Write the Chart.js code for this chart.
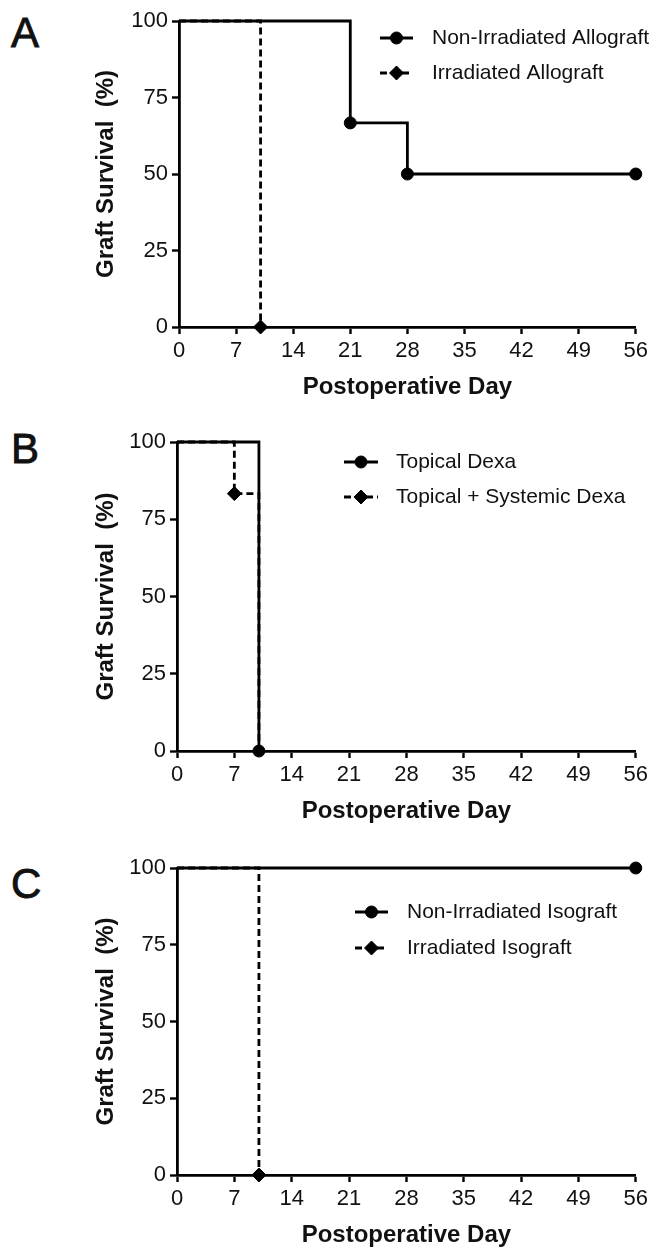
<!DOCTYPE html>
<html lang="en">
<head>
<meta charset="UTF-8">
<title>Graft Survival</title>
<script src="https://cdn.jsdelivr.net/npm/chart.js@4.4.1/dist/chart.umd.min.js"></script>
<style>
  body { margin: 0; background: #fff; width: 652px; height: 1247px; position: relative; overflow: hidden;
         font-family: 'Liberation Sans', Arial, sans-serif; }
  .panel { position: absolute; left: 0; width: 652px; }
  .letter { position: absolute; left: 11px; font-size: 42px; line-height: 1; color: #111;
            -webkit-text-stroke: 0.9px #111; }
</style>
</head>
<body>
<div class="letter" style="top:12px">A</div>
<div class="letter" style="top:428px">B</div>
<div class="letter" style="top:863px">C</div>
<div class="panel" style="top:0;height:415px"><canvas id="chartA"></canvas></div>
<div class="panel" style="top:415px;height:415px"><canvas id="chartB"></canvas></div>
<div class="panel" style="top:830px;height:417px"><canvas id="chartC"></canvas></div>
<script>
// axis ticks
var dayTicks = [0, 7, 14, 21, 28, 35, 42, 49, 56];
var survivalTicks = [0, 25, 50, 75, 100];

// panel A
var allograftDays = [0, 21, 28, 56];
var allograftSurvival = [100, 66.7, 50, 50];
var irrAllograftDays = [0, 10];
var irrAllograftSurvival = [100, 0];

// panel B
var topicalDays = [0, 10];
var topicalSurvival = [100, 0];
var systemicDays = [0, 7, 10];
var systemicSurvival = [100, 83.3, 0];

// panel C
var isograftDays = [0, 56];
var isograftSurvival = [100, 100];
var irrIsograftDays = [0, 10];
var irrIsograftSurvival = [100, 0];

var FONT = "'Liberation Sans', Arial, sans-serif";
var INK = '#111';

function pts(xs, ys) {
    return xs.map(function (x, i) { return { x: x, y: ys[i] }; });
}

// one Kaplan-Meier style series; marks says which points get a marker
function series(label, xs, ys, dashed, marks) {
    var r = dashed ? 7 : 6;
    return {
        label: label,
        data: pts(xs, ys),
        stepped: true,
        borderColor: '#000',
        borderWidth: 2.8,
        borderDash: dashed ? [7, 4] : [],
        pointStyle: dashed ? 'rectRot' : 'circle',
        pointBackgroundColor: '#000',
        pointBorderColor: '#000',
        pointBorderWidth: 1,
        pointRadius: function (c) { return marks[c.dataIndex] ? r : 0; },
        legendRadius: r,
        fill: false,
        clip: false
    };
}

// legend drawn inside the plot: line sample + marker + label
var kmLegend = {
    id: 'kmLegend',
    afterDraw: function (chart, args, o) {
        var ctx = chart.ctx;
        ctx.save();
        chart.data.datasets.forEach(function (ds, i) {
            var y = o.rows[i];
            ctx.strokeStyle = '#000';
            ctx.fillStyle = '#000';
            ctx.lineWidth = ds.borderWidth;
            ctx.setLineDash(ds.borderDash);
            ctx.beginPath();
            ctx.moveTo(o.x1, y);
            ctx.lineTo(o.x2, y);
            ctx.stroke();
            ctx.setLineDash([]);
            ctx.lineWidth = 1;
            Chart.helpers.drawPoint(ctx, { pointStyle: ds.pointStyle, radius: ds.legendRadius, rotation: 0, borderWidth: 1 },
                (o.x1 + o.x2) / 2, y);
            ctx.fillStyle = INK;
            ctx.font = '21px ' + FONT;
            ctx.textBaseline = 'middle';
            ctx.textAlign = 'left';
            ctx.fillText(ds.label, o.textX, y);
        });
        ctx.restore();
    }
};

function makeChart(id, g, datasets) {
    var xHeight = g.canvasH - (g.plotBottom - g.canvasTop);
    return new Chart(document.getElementById(id), {
        type: 'line',
        data: { datasets: datasets },
        plugins: [kmLegend],
        options: {
            responsive: true,
            maintainAspectRatio: false,
            animation: false,
            events: [],
            layout: { padding: { top: g.plotTop - g.canvasTop, right: 652 - g.plotRight, left: 0, bottom: 0 } },
            plugins: {
                legend: { display: false },
                tooltip: { enabled: false },
                kmLegend: {
                    rows: g.rows.map(function (r) { return r - g.canvasTop; }),
                    x1: g.x1, x2: g.x2, textX: g.textX
                }
            },
            scales: {
                x: {
                    type: 'linear', min: 0, max: 56,
                    afterBuildTicks: function (s) { s.ticks = dayTicks.map(function (v) { return { value: v }; }); },
                    afterFit: function (s) { s.height = xHeight; },
                    grid: { drawOnChartArea: false, tickLength: 7, tickWidth: 2.4, tickColor: '#000' },
                    border: { display: true, color: '#000', width: 2.8 },
                    ticks: { color: INK, padding: 4, maxRotation: 0, font: { family: FONT, size: 22 } },
                    title: {
                        display: true, text: 'Postoperative Day', color: INK,
                        font: { family: FONT, size: 24, weight: 'bold', lineHeight: 1 },
                        padding: { top: 0, bottom: xHeight - 60 - 12 }
                    }
                },
                y: {
                    min: 0, max: 100,
                    afterBuildTicks: function (s) { s.ticks = survivalTicks.map(function (v) { return { value: v }; }); },
                    afterFit: function (s) { s.width = g.plotLeft; },
                    grid: { drawOnChartArea: false, tickLength: 7, tickWidth: 2.4, tickColor: '#000' },
                    border: { display: true, color: '#000', width: 2.8 },
                    ticks: { color: INK, padding: 4, font: { family: FONT, size: 22 } },
                    title: {
                        display: true, text: 'Graft Survival  (%)', color: INK,
                        font: { family: FONT, size: 24, weight: 'bold', lineHeight: 1 },
                        padding: { top: 94, bottom: 0 }
                    }
                }
            }
        }
    });
}

makeChart('chartA',
    { canvasTop: 0, canvasH: 415, plotTop: 21, plotBottom: 327, plotLeft: 179, plotRight: 638,
      rows: [38, 73], x1: 380, x2: 413, textX: 432 },
    [series('Non-Irradiated Allograft', allograftDays, allograftSurvival, false, [0, 1, 1, 1]),
     series('Irradiated Allograft', irrAllograftDays, irrAllograftSurvival, true, [0, 1])]);

makeChart('chartB',
    { canvasTop: 415, canvasH: 415, plotTop: 442, plotBottom: 751, plotLeft: 177, plotRight: 638,
      rows: [462, 497], x1: 344, x2: 378, textX: 396 },
    [series('Topical Dexa', topicalDays, topicalSurvival, false, [0, 1]),
     series('Topical + Systemic Dexa', systemicDays, systemicSurvival, true, [0, 1, 0])]);

makeChart('chartC',
    { canvasTop: 830, canvasH: 417, plotTop: 868, plotBottom: 1175, plotLeft: 177, plotRight: 638,
      rows: [912, 948], x1: 355, x2: 388, textX: 407 },
    [series('Non-Irradiated Isograft', isograftDays, isograftSurvival, false, [0, 1]),
     series('Irradiated Isograft', irrIsograftDays, irrIsograftSurvival, true, [0, 1])]);
</script>
</body>
</html>
